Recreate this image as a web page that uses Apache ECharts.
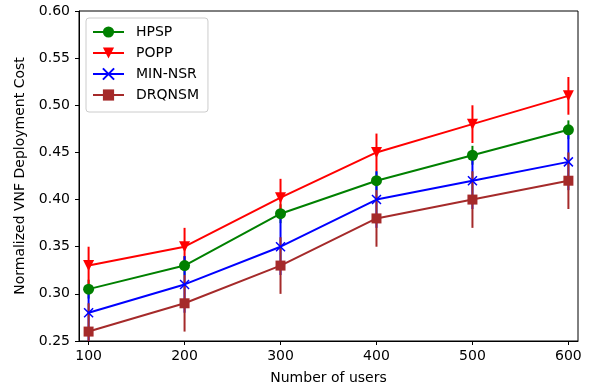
<!DOCTYPE html>
<html>
<head>
<meta charset="utf-8">
<script src="https://cdn.jsdelivr.net/npm/echarts@6/dist/echarts.min.js"></script>
<style>html,body{margin:0;padding:0;background:#fff}#c{width:590px;height:390px}</style>
</head>
<body>
<div id="c"></div>
<script>
const users = [100, 200, 300, 400, 500, 600];
const hpsp = [0.305, 0.330, 0.385, 0.420, 0.447, 0.474];
const hpspErr = [0.01, 0.01, 0.01, 0.01, 0.01, 0.01];
const popp = [0.330, 0.350, 0.402, 0.450, 0.480, 0.510];
const poppErr = [0.02, 0.02, 0.02, 0.02, 0.02, 0.02];
const minnsr = [0.280, 0.310, 0.350, 0.400, 0.420, 0.440];
const minnsrErr = [0.03, 0.03, 0.03, 0.03, 0.03, 0.03];
const drqnsm = [0.260, 0.290, 0.330, 0.380, 0.400, 0.420];
const drqnsmErr = [0.03, 0.03, 0.03, 0.03, 0.03, 0.03];
const yTicks = [0.25, 0.30, 0.35, 0.40, 0.45, 0.50, 0.55, 0.60];

const FONT = 'DejaVu Sans';
const series = [
  {name: 'HPSP', vals: hpsp, err: hpspErr, color: '#008000', symbol: 'circle', size: 11},
  {name: 'POPP', vals: popp, err: poppErr, color: '#ff0000', symbol: 'path://M0,0 L10,0 L5,10 Z', size: 11},
  {name: 'MIN-NSR', vals: minnsr, err: minnsrErr, color: '#0000ff', symbol: 'path://M0,0 L10,10 M10,0 L0,10', size: 9, stroke: true},
  {name: 'DRQNSM', vals: drqnsm, err: drqnsmErr, color: '#a52a2a', symbol: 'rect', size: 10}
];

const eSeries = [];
series.forEach(s => {
  eSeries.push({
    type: 'custom',
    name: s.name + '-err',
    z: 1,
    clip: true,
    data: users.map((u, i) => [u, s.vals[i] - s.err[i], s.vals[i] + s.err[i]]),
    renderItem: function (params, api) {
      const p1 = api.coord([api.value(0), api.value(1)]);
      const p2 = api.coord([api.value(0), api.value(2)]);
      return {type: 'line', shape: {x1: p1[0], y1: p1[1], x2: p2[0], y2: p2[1]},
        style: {stroke: s.color, lineWidth: 2}};
    },
    silent: true
  });
});
series.forEach(s => {
  eSeries.push({
    type: 'line',
    name: s.name,
    z: 3,
    data: users.map((u, i) => [u, s.vals[i]]),
    symbol: s.symbol,
    symbolSize: s.size,
    showAllSymbol: true,
    lineStyle: {color: s.color, width: 2},
    itemStyle: s.stroke ? {color: 'rgba(0,0,0,0)', borderColor: s.color, borderWidth: 1.5} : {color: s.color, borderColor: s.color, borderWidth: 0},
    emphasis: {disabled: true},
    animation: false
  });
});

const chart = echarts.init(document.getElementById('c'), null, {renderer: 'canvas'});
chart.setOption({
  animation: false,
  backgroundColor: '#ffffff',
  grid: {left: 79, right: 12, top: 11, bottom: 49, show: true, borderColor: '#000', borderWidth: 1, backgroundColor: 'transparent'},
  legend: {
    data: series.map(s => s.name),
    left: 86, top: 18, orient: 'vertical',
    itemWidth: 31, itemHeight: 14, itemGap: 7,
    backgroundColor: 'rgba(255,255,255,0.8)',
    borderColor: '#cccccc', borderWidth: 1, borderRadius: 3,
    padding: [7, 9, 10, 6],
    textStyle: {fontFamily: FONT, fontSize: 14, color: '#000', padding: [0, 0, 0, 7]}
  },
  xAxis: {
    type: 'value', min: 90, max: 610,
    name: 'Number of users', nameLocation: 'middle', nameGap: 30,
    nameTextStyle: {fontFamily: FONT, fontSize: 14, color: '#000'},
    axisLine: {show: true, lineStyle: {color: '#000', width: 1}},
    axisTick: {show: true, inside: false, length: 4, lineStyle: {color: '#000'}, customValues: users},
    axisLabel: {fontFamily: FONT, fontSize: 14, color: '#000', margin: 8, customValues: users},
    splitLine: {show: false}
  },
  yAxis: {
    type: 'value', min: 0.25, max: 0.60, interval: 0.05,
    name: 'Normalized VNF Deployment Cost', nameLocation: 'middle', nameGap: 52,
    nameTextStyle: {fontFamily: FONT, fontSize: 14, color: '#000'},
    axisLine: {show: true, lineStyle: {color: '#000', width: 1}},
    axisTick: {show: true, inside: false, length: 4, lineStyle: {color: '#000'}, customValues: yTicks},
    axisLabel: {fontFamily: FONT, fontSize: 14, color: '#000', margin: 9, customValues: yTicks, formatter: v => v.toFixed(2)},
    splitLine: {show: false}
  },
  series: eSeries
});
</script>
</body>
</html>
